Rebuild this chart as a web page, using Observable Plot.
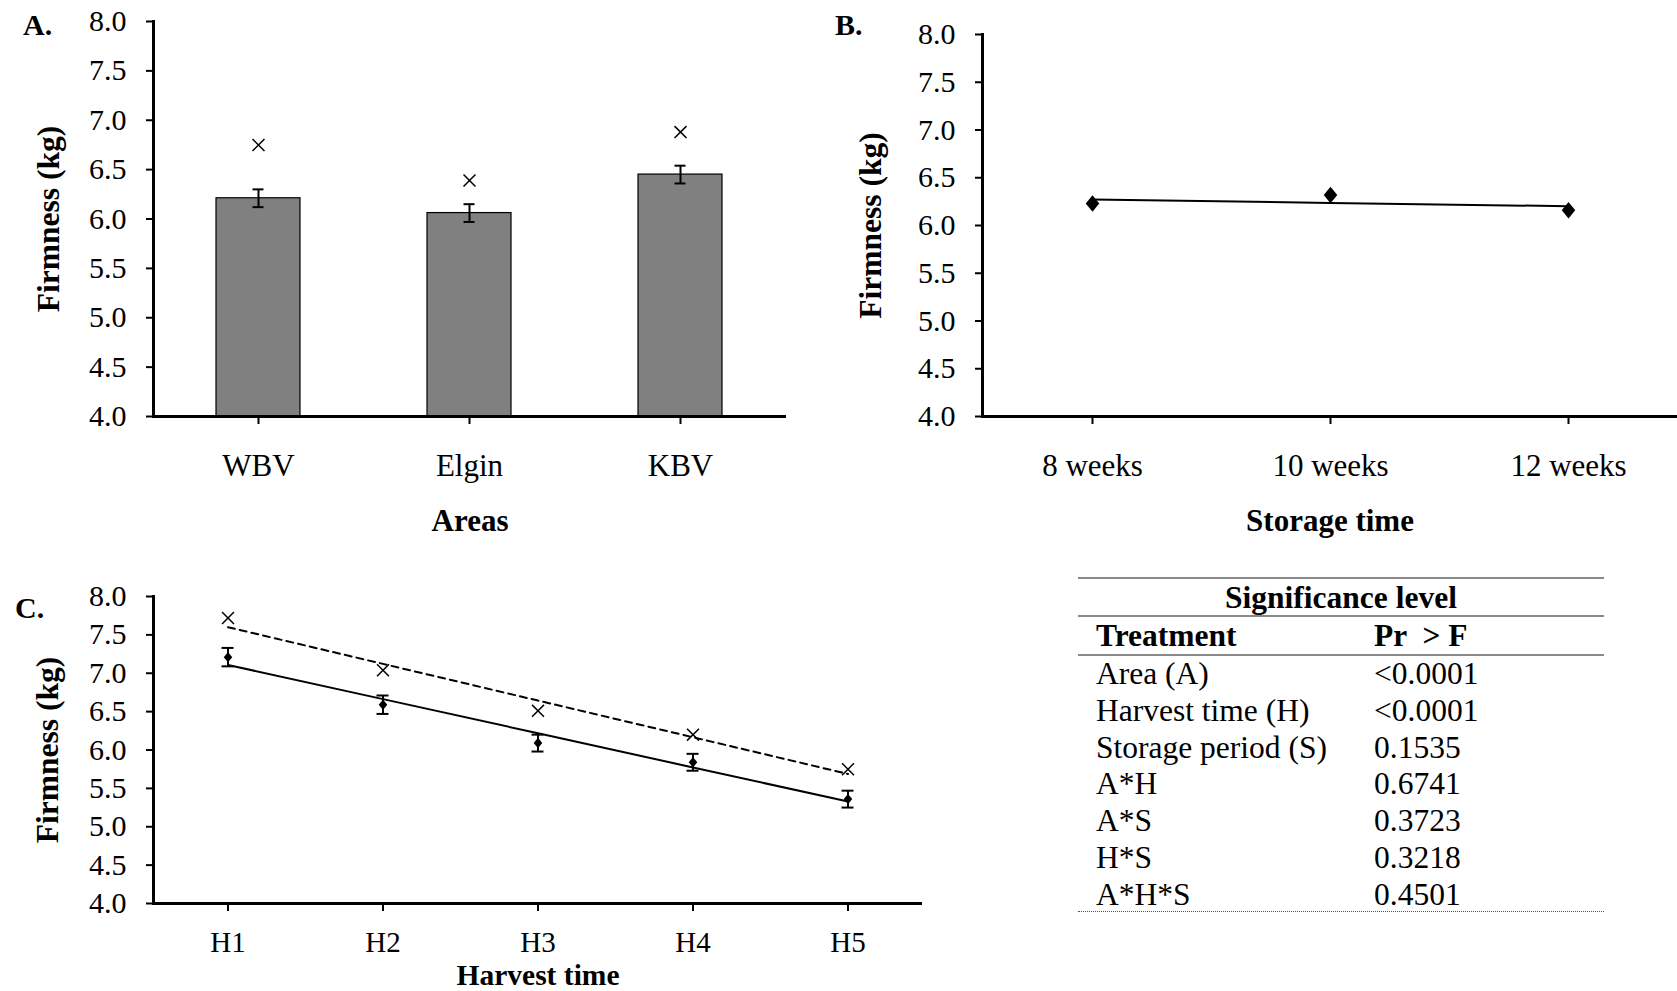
<!DOCTYPE html>
<html><head><meta charset="utf-8">
<script src="https://cdn.jsdelivr.net/npm/d3@7"></script>
<script src="https://cdn.jsdelivr.net/npm/@observablehq/plot@0.6"></script>
<style>
body{margin:0;background:#fff;}
#root{position:relative;width:1677px;height:991px;font-family:"Liberation Serif","Times New Roman",serif;color:#000;overflow:hidden;}
.abs{position:absolute;}
.txt{position:absolute;font-size:31.5px;line-height:30px;white-space:pre;}
.b{font-weight:bold;}
.hl{position:absolute;left:1078px;width:526px;height:0;border-top:2px solid #8a8a8a;}
</style></head><body><div id="root"></div>
<script>
// ---------- data ----------
const areas = ["WBV", "Elgin", "KBV"];
const areaMeans = [6.21, 6.06, 6.45];
const areaSE = [0.09, 0.09, 0.09];
const areaCross = [6.75, 6.39, 6.88];

const storage = ["8 weeks", "10 weeks", "12 weeks"];
const storageMeans = [6.23, 6.32, 6.16];

const harvest = ["H1", "H2", "H3", "H4", "H5"];
const harvestMeans = [7.21, 6.59, 6.09, 5.84, 5.36];
const harvestSE = [0.12, 0.12, 0.11, 0.11, 0.11];
const harvestCross = [7.72, 7.04, 6.51, 6.20, 5.75];

const yTicks = [4.0, 4.5, 5.0, 5.5, 6.0, 6.5, 7.0, 7.5, 8.0];

const treatments = ["Area (A)", "Harvest time (H)", "Storage period (S)", "A*H", "A*S", "H*S", "A*H*S"];
const pValues = ["<0.0001", "<0.0001", "0.1535", "0.6741", "0.3723", "0.3218", "0.4501"];

// ---------- helpers ----------
const font = "'Liberation Serif','Times New Roman',serif";
const fmt = d3.format(".1f");
const root = document.getElementById("root");

const diamond = {draw(ctx, size) {
  const s = Math.sqrt(size / 2), hx = s * 0.9, hy = s * 1.1;
  ctx.moveTo(0, -hy); ctx.lineTo(hx, 0); ctx.lineTo(0, hy); ctx.lineTo(-hx, 0); ctx.closePath();
}};

function fit(vals) {
  const xs = d3.range(vals.length);
  const mx = d3.mean(xs), my = d3.mean(vals);
  const b = d3.sum(xs, (x, i) => (x - mx) * (vals[i] - my)) / d3.sum(xs, x => (x - mx) ** 2);
  return xs.map(x => my + b * (x - mx));
}

function frameMarks({xLabel, yLabel, dyX, dxY, tickPadX, tickFont = 31, labelFont = 31}) {
  return [
    Plot.ruleY([4], {stroke: "black", strokeWidth: 3}),
    Plot.frame({anchor: "left", stroke: "black", strokeWidth: 3}),
    Plot.axisY({ticks: yTicks, tickFormat: fmt, tickSize: 7, tickPadding: 20, strokeWidth: 2, fontSize: 30, label: null}),
    Plot.axisX({tickSize: 8, tickPadding: tickPadX, strokeWidth: 2, fontSize: tickFont, label: null}),
    Plot.text([xLabel], {frameAnchor: "bottom", lineAnchor: "middle", textAnchor: "middle", dy: dyX, text: d => d, fontWeight: "bold", fontSize: labelFont}),
    Plot.text([yLabel], {frameAnchor: "left", lineAnchor: "middle", textAnchor: "middle", dx: dxY, rotate: -90, text: d => d, fontWeight: "bold", fontSize: 31.5})
  ];
}

function place(el, left, top) {
  const d = document.createElement("div");
  d.className = "abs"; d.style.left = left + "px"; d.style.top = top + "px";
  d.appendChild(el); root.appendChild(d);
}
const style = {fontFamily: font, fontSize: "30px", background: "transparent", overflow: "visible", color: "black"};

// ---------- panel A ----------
const dataA = areas.map((a, i) => ({cat: a, mean: areaMeans[i], se: areaSE[i], cross: areaCross[i]}));
const plotA = Plot.plot({
  width: 800, height: 540,
  marginLeft: 153, marginRight: 14, marginTop: 21, marginBottom: 124,
  style,
  x: {domain: areas, paddingInner: 0.6, paddingOuter: 0.3},
  y: {domain: [4, 8]},
  marks: [
    Plot.barY(dataA, {x: "cat", y1: 4, y2: "mean", fill: "#808080", stroke: "black", strokeWidth: 1.2}),
    Plot.ruleX(dataA, {x: "cat", y1: d => d.mean - d.se, y2: d => d.mean + d.se, stroke: "black", strokeWidth: 2}),
    Plot.tickY(dataA, {x: "cat", y: d => d.mean - d.se, insetLeft: 36.5, insetRight: 36.5, stroke: "black", strokeWidth: 2}),
    Plot.tickY(dataA, {x: "cat", y: d => d.mean + d.se, insetLeft: 36.5, insetRight: 36.5, stroke: "black", strokeWidth: 2}),
    Plot.dot(dataA, {x: "cat", y: "cross", symbol: "times", r: 5.5, stroke: "black", strokeWidth: 1.5}),
    ...frameMarks({xLabel: "Areas", yLabel: "Firmness (kg)", dyX: 105, dxY: -105, tickPadX: 29})
  ]
});
place(plotA, 0, 0);

// ---------- panel B ----------
const fitB = fit(storageMeans);
const dataB = storage.map((s, i) => ({cat: s, mean: storageMeans[i], fit: fitB[i]}));
const plotB = Plot.plot({
  width: 877, height: 540,
  marginLeft: 182, marginRight: 0, marginTop: 34, marginBottom: 124,
  style,
  x: {type: "point", domain: storage, padding: 0.46},
  y: {domain: [4, 8]},
  marks: [
    Plot.line(dataB, {x: "cat", y: "fit", stroke: "black", strokeWidth: 2}),
    Plot.dot(dataB, {x: "cat", y: "mean", symbol: diamond, r: 6, fill: "black", stroke: "none"}),
    ...frameMarks({xLabel: "Storage time", yLabel: "Firmness (kg)", dyX: 105, dxY: -112, tickPadX: 29})
  ]
});
place(plotB, 800, 0);

// ---------- panel C ----------
const fitC = fit(harvestMeans);
const fitCx = fit(harvestCross);
const dataC = harvest.map((h, i) => ({cat: h, mean: harvestMeans[i], se: harvestSE[i], cross: harvestCross[i], fit: fitC[i], fitx: fitCx[i]}));
const plotC = Plot.plot({
  width: 930, height: 451,
  marginLeft: 153, marginRight: 8, marginTop: 56, marginBottom: 88,
  style,
  x: {domain: harvest, paddingInner: 0.9, paddingOuter: 0.42},
  y: {domain: [4, 8]},
  marks: [
    Plot.line(dataC, {x: "cat", y: "fitx", stroke: "black", strokeWidth: 2, strokeDasharray: "7,5"}),
    Plot.line(dataC, {x: "cat", y: "fit", stroke: "black", strokeWidth: 2}),
    Plot.ruleX(dataC, {x: "cat", y1: d => d.mean - d.se, y2: d => d.mean + d.se, stroke: "black", strokeWidth: 2}),
    Plot.tickY(dataC, {x: "cat", y: d => d.mean - d.se, insetLeft: 1.5, insetRight: 1.5, stroke: "black", strokeWidth: 2}),
    Plot.tickY(dataC, {x: "cat", y: d => d.mean + d.se, insetLeft: 1.5, insetRight: 1.5, stroke: "black", strokeWidth: 2}),
    Plot.dot(dataC, {x: "cat", y: "mean", symbol: diamond, r: 3.8, fill: "black", stroke: "none"}),
    Plot.dot(dataC, {x: "cat", y: "cross", symbol: "times", r: 5.5, stroke: "black", strokeWidth: 1.5}),
    ...frameMarks({xLabel: "Harvest time", yLabel: "Firmness (kg)", dyX: 72, dxY: -106, tickPadX: 20, tickFont: 29, labelFont: 29.5})
  ]
});
place(plotC, 0, 540);

// ---------- panel letters ----------
function addText(str, left, baseline, cls, extra) {
  const d = document.createElement("div");
  d.className = "txt " + (cls || "");
  d.style.left = left + "px"; d.style.top = (baseline - 25) + "px";
  if (extra) Object.assign(d.style, extra);
  d.textContent = str; root.appendChild(d);
  return d;
}
addText("A.", 23, 35, "b", {fontSize: "30px"});
addText("B.", 835, 35, "b", {fontSize: "30px"});
addText("C.", 15, 618, "b", {fontSize: "30px"});

// ---------- table ----------
function hline(top, dotted) {
  const d = document.createElement("div");
  d.className = "hl"; d.style.top = top + "px";
  if (dotted) d.style.borderTop = "1.5px dotted #555";
  root.appendChild(d);
}
hline(577); hline(615); hline(654); hline(911, true);
addText("Significance level", 1078, 608, "b", {width: "526px", textAlign: "center"});
addText("Treatment", 1096, 646, "b");
addText("Pr  > F", 1374, 646, "b");
treatments.forEach((t, i) => {
  addText(t, 1096, 684 + i * 36.8);
  addText(pValues[i], 1374, 684 + i * 36.8);
});
</script></body></html>
